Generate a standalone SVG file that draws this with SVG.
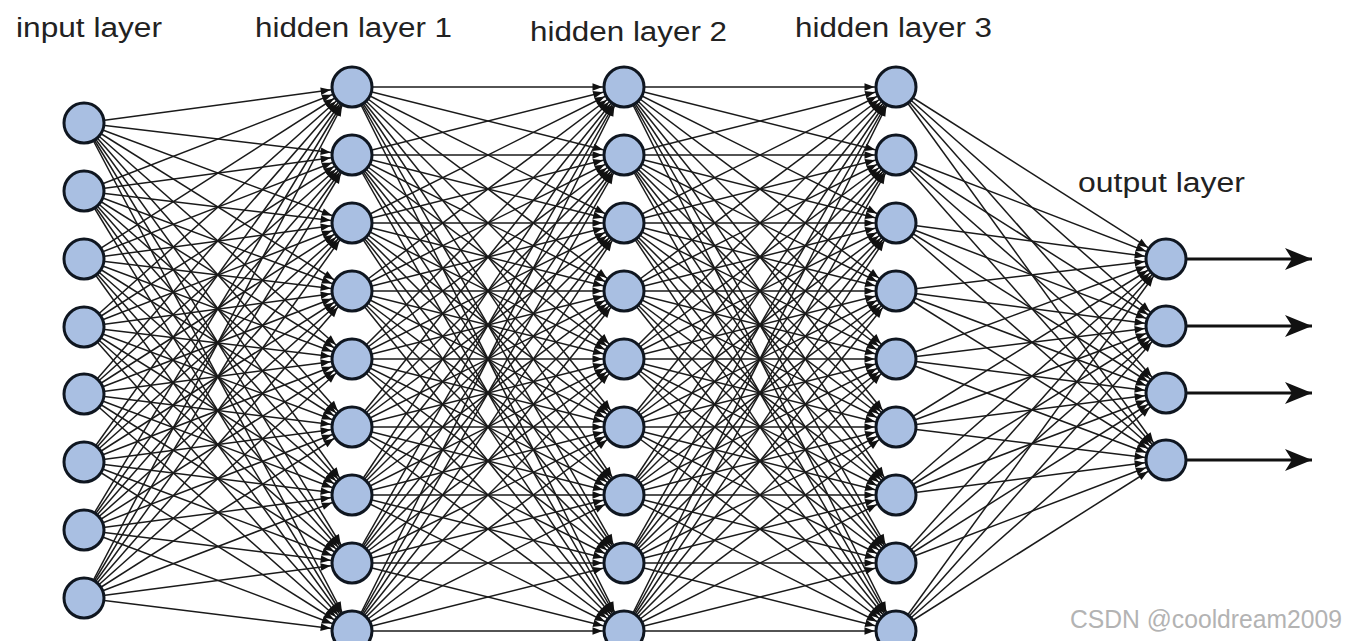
<svg xmlns="http://www.w3.org/2000/svg" xmlns:xlink="http://www.w3.org/1999/xlink" width="1348" height="641" viewBox="0 0 1348 641">
<style>
.e path{stroke:#1a1a1a;stroke-width:1.5;fill:none;marker-end:url(#ah)}
.o path{stroke:#111;stroke-width:3.2;fill:none;marker-end:url(#big)}
.n circle{fill:#a9bfe2;stroke:#0f1620;stroke-width:3}
.lbl{font-family:"Liberation Sans",Arial,sans-serif;font-size:27px;fill:#222}
.wm{font-family:"Liberation Sans",Arial,sans-serif;font-size:25px;fill:#b3b3b3}
</style>
<defs>
<marker id="ah" markerUnits="userSpaceOnUse" orient="auto" refX="21.5" refY="0" overflow="visible" markerWidth="1" markerHeight="1">
<path d="M-10,-3.8 L0,0 L-10,3.8 z" fill="#111"/>
</marker>
<marker id="big" markerUnits="userSpaceOnUse" orient="auto" refX="0" refY="0" overflow="visible" markerWidth="1" markerHeight="1">
<path d="M0,0 L-27,-11 L-20,0 L-27,11 z" fill="#111"/>
</marker>
</defs>
<rect width="1348" height="641" fill="#ffffff"/>
<g id="connectors">
<g class="e" id="e-in-h1">
<path d="M84 123L352 87"/><path d="M84 123L352 155"/><path d="M84 123L352 223"/><path d="M84 123L352 291"/><path d="M84 123L352 359"/><path d="M84 123L352 427"/><path d="M84 123L352 495"/><path d="M84 123L352 563"/><path d="M84 123L352 631"/>
<path d="M84 191L352 87"/><path d="M84 191L352 155"/><path d="M84 191L352 223"/><path d="M84 191L352 291"/><path d="M84 191L352 359"/><path d="M84 191L352 427"/><path d="M84 191L352 495"/><path d="M84 191L352 563"/><path d="M84 191L352 631"/>
<path d="M84 259L352 87"/><path d="M84 259L352 155"/><path d="M84 259L352 223"/><path d="M84 259L352 291"/><path d="M84 259L352 359"/><path d="M84 259L352 427"/><path d="M84 259L352 495"/><path d="M84 259L352 563"/><path d="M84 259L352 631"/>
<path d="M84 327L352 87"/><path d="M84 327L352 155"/><path d="M84 327L352 223"/><path d="M84 327L352 291"/><path d="M84 327L352 359"/><path d="M84 327L352 427"/><path d="M84 327L352 495"/><path d="M84 327L352 563"/><path d="M84 327L352 631"/>
<path d="M84 394L352 87"/><path d="M84 394L352 155"/><path d="M84 394L352 223"/><path d="M84 394L352 291"/><path d="M84 394L352 359"/><path d="M84 394L352 427"/><path d="M84 394L352 495"/><path d="M84 394L352 563"/><path d="M84 394L352 631"/>
<path d="M84 462L352 87"/><path d="M84 462L352 155"/><path d="M84 462L352 223"/><path d="M84 462L352 291"/><path d="M84 462L352 359"/><path d="M84 462L352 427"/><path d="M84 462L352 495"/><path d="M84 462L352 563"/><path d="M84 462L352 631"/>
<path d="M84 530L352 87"/><path d="M84 530L352 155"/><path d="M84 530L352 223"/><path d="M84 530L352 291"/><path d="M84 530L352 359"/><path d="M84 530L352 427"/><path d="M84 530L352 495"/><path d="M84 530L352 563"/><path d="M84 530L352 631"/>
<path d="M84 598L352 87"/><path d="M84 598L352 155"/><path d="M84 598L352 223"/><path d="M84 598L352 291"/><path d="M84 598L352 359"/><path d="M84 598L352 427"/><path d="M84 598L352 495"/><path d="M84 598L352 563"/><path d="M84 598L352 631"/>
</g>
<g class="e" id="e-h1-h2">
<path d="M352 87L624 87"/><path d="M352 87L624 155"/><path d="M352 87L624 223"/><path d="M352 87L624 291"/><path d="M352 87L624 359"/><path d="M352 87L624 427"/><path d="M352 87L624 495"/><path d="M352 87L624 563"/><path d="M352 87L624 631"/>
<path d="M352 155L624 87"/><path d="M352 155L624 155"/><path d="M352 155L624 223"/><path d="M352 155L624 291"/><path d="M352 155L624 359"/><path d="M352 155L624 427"/><path d="M352 155L624 495"/><path d="M352 155L624 563"/><path d="M352 155L624 631"/>
<path d="M352 223L624 87"/><path d="M352 223L624 155"/><path d="M352 223L624 223"/><path d="M352 223L624 291"/><path d="M352 223L624 359"/><path d="M352 223L624 427"/><path d="M352 223L624 495"/><path d="M352 223L624 563"/><path d="M352 223L624 631"/>
<path d="M352 291L624 87"/><path d="M352 291L624 155"/><path d="M352 291L624 223"/><path d="M352 291L624 291"/><path d="M352 291L624 359"/><path d="M352 291L624 427"/><path d="M352 291L624 495"/><path d="M352 291L624 563"/><path d="M352 291L624 631"/>
<path d="M352 359L624 87"/><path d="M352 359L624 155"/><path d="M352 359L624 223"/><path d="M352 359L624 291"/><path d="M352 359L624 359"/><path d="M352 359L624 427"/><path d="M352 359L624 495"/><path d="M352 359L624 563"/><path d="M352 359L624 631"/>
<path d="M352 427L624 87"/><path d="M352 427L624 155"/><path d="M352 427L624 223"/><path d="M352 427L624 291"/><path d="M352 427L624 359"/><path d="M352 427L624 427"/><path d="M352 427L624 495"/><path d="M352 427L624 563"/><path d="M352 427L624 631"/>
<path d="M352 495L624 87"/><path d="M352 495L624 155"/><path d="M352 495L624 223"/><path d="M352 495L624 291"/><path d="M352 495L624 359"/><path d="M352 495L624 427"/><path d="M352 495L624 495"/><path d="M352 495L624 563"/><path d="M352 495L624 631"/>
<path d="M352 563L624 87"/><path d="M352 563L624 155"/><path d="M352 563L624 223"/><path d="M352 563L624 291"/><path d="M352 563L624 359"/><path d="M352 563L624 427"/><path d="M352 563L624 495"/><path d="M352 563L624 563"/><path d="M352 563L624 631"/>
<path d="M352 631L624 87"/><path d="M352 631L624 155"/><path d="M352 631L624 223"/><path d="M352 631L624 291"/><path d="M352 631L624 359"/><path d="M352 631L624 427"/><path d="M352 631L624 495"/><path d="M352 631L624 563"/><path d="M352 631L624 631"/>
</g>
<use id="e-h2-h3" xlink:href="#e-h1-h2" href="#e-h1-h2" transform="translate(272,0)"/>
<g class="e" id="e-h3-out">
<path d="M896 87L1166 259"/><path d="M896 87L1166 326"/><path d="M896 87L1166 393"/><path d="M896 87L1166 460"/>
<path d="M896 155L1166 259"/><path d="M896 155L1166 326"/><path d="M896 155L1166 393"/><path d="M896 155L1166 460"/>
<path d="M896 223L1166 259"/><path d="M896 223L1166 326"/><path d="M896 223L1166 393"/><path d="M896 223L1166 460"/>
<path d="M896 291L1166 259"/><path d="M896 291L1166 326"/><path d="M896 291L1166 393"/><path d="M896 291L1166 460"/>
<path d="M896 359L1166 259"/><path d="M896 359L1166 326"/><path d="M896 359L1166 393"/><path d="M896 359L1166 460"/>
<path d="M896 427L1166 259"/><path d="M896 427L1166 326"/><path d="M896 427L1166 393"/><path d="M896 427L1166 460"/>
<path d="M896 495L1166 259"/><path d="M896 495L1166 326"/><path d="M896 495L1166 393"/><path d="M896 495L1166 460"/>
<path d="M896 563L1166 259"/><path d="M896 563L1166 326"/><path d="M896 563L1166 393"/><path d="M896 563L1166 460"/>
<path d="M896 631L1166 259"/><path d="M896 631L1166 326"/><path d="M896 631L1166 393"/><path d="M896 631L1166 460"/>
</g>
<g class="o" id="e-out">
<path d="M1187 259L1312 259"/><path d="M1187 326L1312 326"/><path d="M1187 393L1312 393"/><path d="M1187 460L1312 460"/>
</g>
</g>
<g class="n" id="input-layer">
<g id="in1"><circle cx="84" cy="123" r="20"/></g>
<g id="in2"><circle cx="84" cy="191" r="20"/></g>
<g id="in3"><circle cx="84" cy="259" r="20"/></g>
<g id="in4"><circle cx="84" cy="327" r="20"/></g>
<g id="in5"><circle cx="84" cy="394" r="20"/></g>
<g id="in6"><circle cx="84" cy="462" r="20"/></g>
<g id="in7"><circle cx="84" cy="530" r="20"/></g>
<g id="in8"><circle cx="84" cy="598" r="20"/></g>
</g>
<g class="n" id="hidden-layer-1">
<g id="h1n1"><circle cx="352" cy="87" r="20"/></g>
<g id="h1n2"><circle cx="352" cy="155" r="20"/></g>
<g id="h1n3"><circle cx="352" cy="223" r="20"/></g>
<g id="h1n4"><circle cx="352" cy="291" r="20"/></g>
<g id="h1n5"><circle cx="352" cy="359" r="20"/></g>
<g id="h1n6"><circle cx="352" cy="427" r="20"/></g>
<g id="h1n7"><circle cx="352" cy="495" r="20"/></g>
<g id="h1n8"><circle cx="352" cy="563" r="20"/></g>
<g id="h1n9"><circle cx="352" cy="631" r="20"/></g>
</g>
<g class="n" id="hidden-layer-2">
<g id="h2n1"><circle cx="624" cy="87" r="20"/></g>
<g id="h2n2"><circle cx="624" cy="155" r="20"/></g>
<g id="h2n3"><circle cx="624" cy="223" r="20"/></g>
<g id="h2n4"><circle cx="624" cy="291" r="20"/></g>
<g id="h2n5"><circle cx="624" cy="359" r="20"/></g>
<g id="h2n6"><circle cx="624" cy="427" r="20"/></g>
<g id="h2n7"><circle cx="624" cy="495" r="20"/></g>
<g id="h2n8"><circle cx="624" cy="563" r="20"/></g>
<g id="h2n9"><circle cx="624" cy="631" r="20"/></g>
</g>
<g class="n" id="hidden-layer-3">
<g id="h3n1"><circle cx="896" cy="87" r="20"/></g>
<g id="h3n2"><circle cx="896" cy="155" r="20"/></g>
<g id="h3n3"><circle cx="896" cy="223" r="20"/></g>
<g id="h3n4"><circle cx="896" cy="291" r="20"/></g>
<g id="h3n5"><circle cx="896" cy="359" r="20"/></g>
<g id="h3n6"><circle cx="896" cy="427" r="20"/></g>
<g id="h3n7"><circle cx="896" cy="495" r="20"/></g>
<g id="h3n8"><circle cx="896" cy="563" r="20"/></g>
<g id="h3n9"><circle cx="896" cy="631" r="20"/></g>
</g>
<g class="n" id="output-layer">
<g id="out1"><circle cx="1166" cy="259" r="20"/></g>
<g id="out2"><circle cx="1166" cy="326" r="20"/></g>
<g id="out3"><circle cx="1166" cy="393" r="20"/></g>
<g id="out4"><circle cx="1166" cy="460" r="20"/></g>
</g>
<g id="labels">
<text class="lbl" x="16" y="37" textLength="146" lengthAdjust="spacingAndGlyphs">input layer</text>
<text class="lbl" x="255" y="37" textLength="197" lengthAdjust="spacingAndGlyphs">hidden layer 1</text>
<text class="lbl" x="530" y="41" textLength="197" lengthAdjust="spacingAndGlyphs">hidden layer 2</text>
<text class="lbl" x="795" y="37" textLength="197" lengthAdjust="spacingAndGlyphs">hidden layer 3</text>
<text class="lbl" x="1078" y="192" textLength="167" lengthAdjust="spacingAndGlyphs">output layer</text>
<text class="wm" x="1070" y="628" textLength="272" lengthAdjust="spacingAndGlyphs">CSDN @cooldream2009</text>
</g>
</svg>
